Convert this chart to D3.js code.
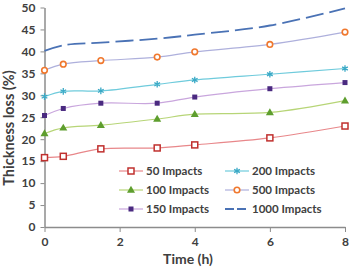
<html>
<head>
    <script src="https://d3js.org/d3.v7.min.js"></script>
    <style>
        body { margin: 0; background: #fff; }
    </style>
</head>
<body>
    <svg id="chart" width="351" height="267"></svg>
    <script>
        // data
        const times = [0, 0.5, 1.5, 3, 4, 6, 8];
        const s50 = [15.8, 16.1, 17.8, 18.0, 18.7, 20.3, 23.0];
        const s100 = [21.3, 22.6, 23.2, 24.6, 25.7, 26.1, 28.8];
        const s150 = [25.4, 27.0, 28.2, 28.2, 29.6, 31.5, 32.9];
        const s200 = [29.7, 30.9, 31.0, 32.5, 33.5, 34.8, 36.1];
        const s500 = [35.7, 37.1, 37.9, 38.7, 39.9, 41.6, 44.4];
        const s1000 = [40.1, 41.4, 42.0, 42.9, 43.8, 45.9, 49.8];
        const seriesNames = ["50 Impacts", "100 Impacts", "150 Impacts", "200 Impacts", "500 Impacts", "1000 Impacts"];
        const xTicks = [0, 2, 4, 6, 8];
        const yTicks = [0, 5, 10, 15, 20, 25, 30, 35, 40, 45, 50];

        const svg = d3.select("#chart");
        const font = "Lato, 'Liberation Sans', sans-serif";

        const x = d3.scaleLinear().domain([0, 8]).range([44.5, 345]);
        const y = d3.scaleLinear().domain([0, 50]).range([227, 7.5]);

        // axes
        const xAxis = d3.axisBottom(x).tickValues(xTicks).tickSize(5).tickSizeOuter(0);
        const yAxis = d3.axisLeft(y).tickValues(yTicks).tickSize(4).tickSizeOuter(0);

        const gx = svg.append("g").attr("transform", "translate(0,227)").call(xAxis);
        const gy = svg.append("g").attr("transform", "translate(44.5,0)").call(yAxis);
        [gx, gy].forEach(g => {
            g.select(".domain").attr("stroke", "#8c8c8c").attr("stroke-width", 1.5);
            g.selectAll(".tick line").attr("stroke", "#8c8c8c").attr("stroke-width", 1);
            g.selectAll(".tick text")
                .attr("fill", "#404040")
                .style("font-family", font)
                .style("font-weight", "bold")
                .style("font-size", "12px");
        });
        gx.selectAll(".tick text").attr("dy", "0.95em");
        gy.selectAll(".tick text").attr("x", -9);

        // axis titles
        svg.append("text")
            .attr("x", 188).attr("y", 264)
            .attr("text-anchor", "middle")
            .attr("fill", "#404040")
            .style("font-family", font).style("font-weight", "bold").style("font-size", "14px")
            .text("Time (h)");
        svg.append("text")
            .attr("transform", "translate(14,128) rotate(-90)")
            .attr("text-anchor", "middle")
            .attr("fill", "#404040")
            .style("font-family", font).style("font-weight", "bold").style("font-size", "14.5px")
            .text("Thickness loss (%)");

        const styles = [
            { line: "#e8878a", mark: "#c0302e", shape: "sqHollow", dash: null },
            { line: "#b7d577", mark: "#5e9e2e", shape: "tri", dash: null },
            { line: "#c9a6dd", mark: "#4a2a80", shape: "sq", dash: null },
            { line: "#6fcbdc", mark: "#3aa9c6", shape: "star", dash: null },
            { line: "#aeb0dc", mark: "#f0782e", shape: "circ", dash: null },
            { line: "#4a72b5", mark: null, shape: null, dash: "18,6" }
        ];
        const allSeries = [s50, s100, s150, s200, s500, s1000];

        const line = d3.line()
            .x((d, i) => x(times[i]))
            .y(d => y(d))
            .curve(d3.curveCatmullRom.alpha(0.5));

        function drawMarker(g, shape, color, cx, cy) {
            if (shape === "sqHollow") {
                g.append("rect").attr("x", cx - 3).attr("y", cy - 3).attr("width", 6).attr("height", 6)
                    .attr("fill", "#fff").attr("stroke", color).attr("stroke-width", 1.5);
            } else if (shape === "sq") {
                g.append("rect").attr("x", cx - 2.5).attr("y", cy - 2.5).attr("width", 5).attr("height", 5)
                    .attr("fill", color);
            } else if (shape === "tri") {
                g.append("path")
                    .attr("d", d3.symbol().type(d3.symbolTriangle).size(28)())
                    .attr("transform", `translate(${cx},${cy + 0.5})`)
                    .attr("fill", color);
            } else if (shape === "circ") {
                g.append("circle").attr("cx", cx).attr("cy", cy).attr("r", 2.8)
                    .attr("fill", "#fff").attr("stroke", color).attr("stroke-width", 1.6);
            } else if (shape === "star") {
                g.append("path")
                    .attr("d", d3.symbol().type(d3.symbolAsterisk).size(30)())
                    .attr("transform", `translate(${cx},${cy})`)
                    .attr("stroke", color).attr("stroke-width", 1.3).attr("fill", "none");
            }
        }

        allSeries.forEach((s, k) => {
            const st = styles[k];
            const g = svg.append("g");
            g.append("path")
                .datum(s)
                .attr("d", line)
                .attr("fill", "none")
                .attr("stroke", st.line)
                .attr("stroke-width", st.dash ? 1.8 : 1.2)
                .attr("stroke-dasharray", st.dash);
            if (st.shape) {
                s.forEach((v, i) => drawMarker(g, st.shape, st.mark, x(times[i]), y(v)));
            }
        });

        // legend
        const legX = [119, 225];
        const legY = [171, 190, 209];
        const order = [[0, 0], [0, 1], [0, 2], [1, 0], [1, 1], [1, 2]];
        order.forEach(([c, r], k) => {
            const st = styles[k];
            const g = svg.append("g");
            const x0 = legX[c], yy = legY[r];
            g.append("line")
                .attr("x1", x0).attr("x2", x0 + 24).attr("y1", yy).attr("y2", yy)
                .attr("stroke", st.line).attr("stroke-width", st.dash ? 1.8 : 1.2)
                .attr("stroke-dasharray", st.dash ? "9,3" : null);
            if (st.shape) drawMarker(g, st.shape, st.mark, x0 + 12, yy);
            g.append("text")
                .attr("x", x0 + 27).attr("y", yy + 4)
                .attr("fill", "#404040")
                .style("font-family", font).style("font-weight", "bold").style("font-size", "11.5px")
                .text(seriesNames[k]);
        });
    </script>
</body>
</html>
